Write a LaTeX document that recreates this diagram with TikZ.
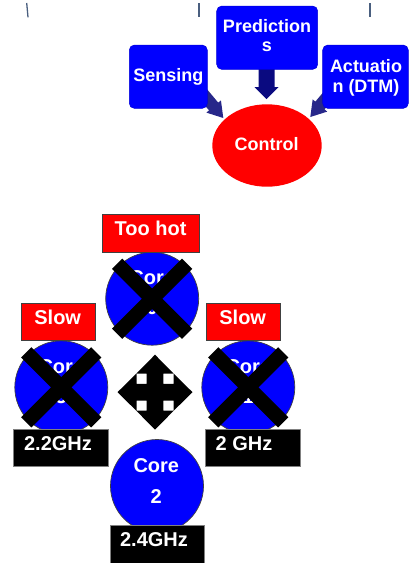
\documentclass[tikz,border=0pt]{standalone}
\usepackage{fontspec}
\setmainfont{Liberation Sans}
\usetikzlibrary{shapes.geometric}
\definecolor{cblue}{HTML}{0000FF}
\definecolor{navyA}{HTML}{27278A}
\definecolor{navyB}{HTML}{0A0A80}
\definecolor{tickc}{HTML}{4A5F7F}
\newcommand\blkarrow[7]{% tip, angle, length, head length, head half width, shaft half width, colour
  \fill[#7,shift={(#1)},rotate=#2] (0,0) -- (-#4,#5) -- (-#4,#6) -- (-#3,#6) -- (-#3,-#6) -- (-#4,-#6) -- (-#4,-#5) -- cycle;}
\begin{document}
\begin{tikzpicture}[x=1pt,y=-1pt,
  bluebox/.style={rectangle, rounded corners=5pt, fill=cblue, draw=cblue!85!black, line width=0.5pt, inner sep=0pt},
  redbox/.style={rectangle, fill=red, draw=darkgray, line width=0.7pt, inner sep=0pt},
  blackbox/.style={rectangle, fill=black, draw=gray, line width=0.5pt, inner sep=0pt},
  core/.style={circle, fill=cblue, draw=darkgray, line width=0.7pt, minimum size=93pt, inner sep=0pt},
  lbl/.style={text=white, font=\bfseries\fontsize{18}{20}\selectfont, inner sep=0pt, anchor=base},
  lblb/.style={lbl, font=\bfseries\fontsize{20}{22}\selectfont},
  xbar/.style={line width=14.5pt, black},
  tickmark/.style={line width=1.3pt, tickc},
]
\useasboundingbox (0,0) rectangle (409,563);

% small ticks at the top
\draw[tickmark] (26.7,3) -- (28,17.3);
\draw[tickmark] (199,3) -- (199,17.3);
\draw[tickmark] (370,3) -- (370,17.3);

% block arrows towards Control
\coordinate (tipS) at (223.3,118);
\coordinate (tipP) at (266.5,99);
\coordinate (tipA) at (310.3,117);
\blkarrow{tipS}{-50}{34}{15}{9.5}{6}{navyA}
\blkarrow{tipP}{-90}{30}{12}{12}{8}{navyB}
\blkarrow{tipA}{-130}{34}{15}{9.5}{6}{navyA}

% blue boxes
\node[bluebox, minimum width=78pt, minimum height=63.3pt] (sensing) at (168.3,76.7) {};
\node[bluebox, minimum width=101pt, minimum height=63.3pt] (pred) at (267.2,37.7) {};
\node[bluebox, minimum width=85.6pt, minimum height=63.3pt] (act) at (365.5,76.7) {};
\node[ellipse, fill=red, minimum width=109.4pt, minimum height=82.4pt, inner sep=0pt] (control) at (267,145.5) {};

\node[lbl] (tsens) at (168.3,81.7) {Sensing};
\node[lbl] (tpred1) at (267,32.7) {Prediction};
\node[lbl] (tpred2) at (267,51.7) {s};
\node[lbl] (tact1) at (366,72.7) {Actuatio};
\node[lbl] (tact2) at (366,92.7) {n (DTM)};
\node[lbl] (tctrl) at (266.7,150.7) {Control};

% cores
\node[core] (c0) at (152.2,298.7) {};
\node[core] (c3) at (61.3,387.3) {};
\node[core] (c1) at (248.3,387.3) {};
\node[core] (c2) at (157,486) {};

\node[lblb] (tc0a) at (152.2,284.4) {Core};
\node[lblb] (tc0b) at (152.2,314.7) {0};
\node[lblb] (tc3a) at (61.3,373) {Core};
\node[lblb] (tc3b) at (61.3,403) {3};
\node[lblb] (tc1a) at (248.3,373) {Core};
\node[lblb] (tc1b) at (248.3,403) {1};
\node[lblb] (tc2a) at (156.3,472.7) {Core};
\node[lblb] (tc2b) at (156.3,503) {2};

% crosses
\foreach \c in {c0,c3,c1}{
  \draw[xbar, shift={(\c.center)}] (-35,-35) -- (35,35);
  \draw[xbar, shift={(\c.center)}] (35,-35) -- (-35,35);
}

% red labels
\node[redbox, minimum width=97pt, minimum height=38pt] (hot) at (150.8,233.3) {};
\node[redbox, minimum width=74.7pt, minimum height=37.4pt] (slowL) at (58.3,322) {};
\node[redbox, minimum width=74.3pt, minimum height=37.4pt] (slowR) at (243.2,322) {};
\node[lblb] (thot) at (150.5,235.7) {Too hot};
\node[lblb] (tslowL) at (57.7,324) {Slow};
\node[lblb] (tslowR) at (242.7,324) {Slow};

% frequency labels
\node[blackbox, minimum width=94.6pt, minimum height=36.7pt] (f3) at (61,447.7) {};
\node[blackbox, minimum width=95.3pt, minimum height=36.7pt] (f1) at (252.7,447.7) {};
\node[blackbox, minimum width=94pt, minimum height=39pt] (f2) at (157,544.5) {};
\node[lblb] (tf3) at (58,450) {2.2GHz};
\node[lblb] (tf1) at (244,450) {2 GHz};
\node[lblb] (tf2) at (154,546.7) {2.4GHz};

% four-way move arrow
\coordinate (mv) at (155,392.2);
\fill[black, shift={(mv)}]
  (0,-37.5) -- (18.7,-18.5) -- (8.3,-18.5) -- (8.3,-8.3) -- (18.5,-8.3) -- (18.5,-18.7) -- (37.5,0)
  -- (18.5,18.7) -- (18.5,8.3) -- (8.3,8.3) -- (8.3,18.5) -- (18.7,18.5) -- (0,37.5)
  -- (-18.7,18.5) -- (-8.3,18.5) -- (-8.3,8.3) -- (-18.5,8.3) -- (-18.5,18.7) -- (-37.5,0)
  -- (-18.5,-18.7) -- (-18.5,-8.3) -- (-8.3,-8.3) -- (-8.3,-18.5) -- (-18.7,-18.5) -- cycle;
\end{tikzpicture}
\end{document}
